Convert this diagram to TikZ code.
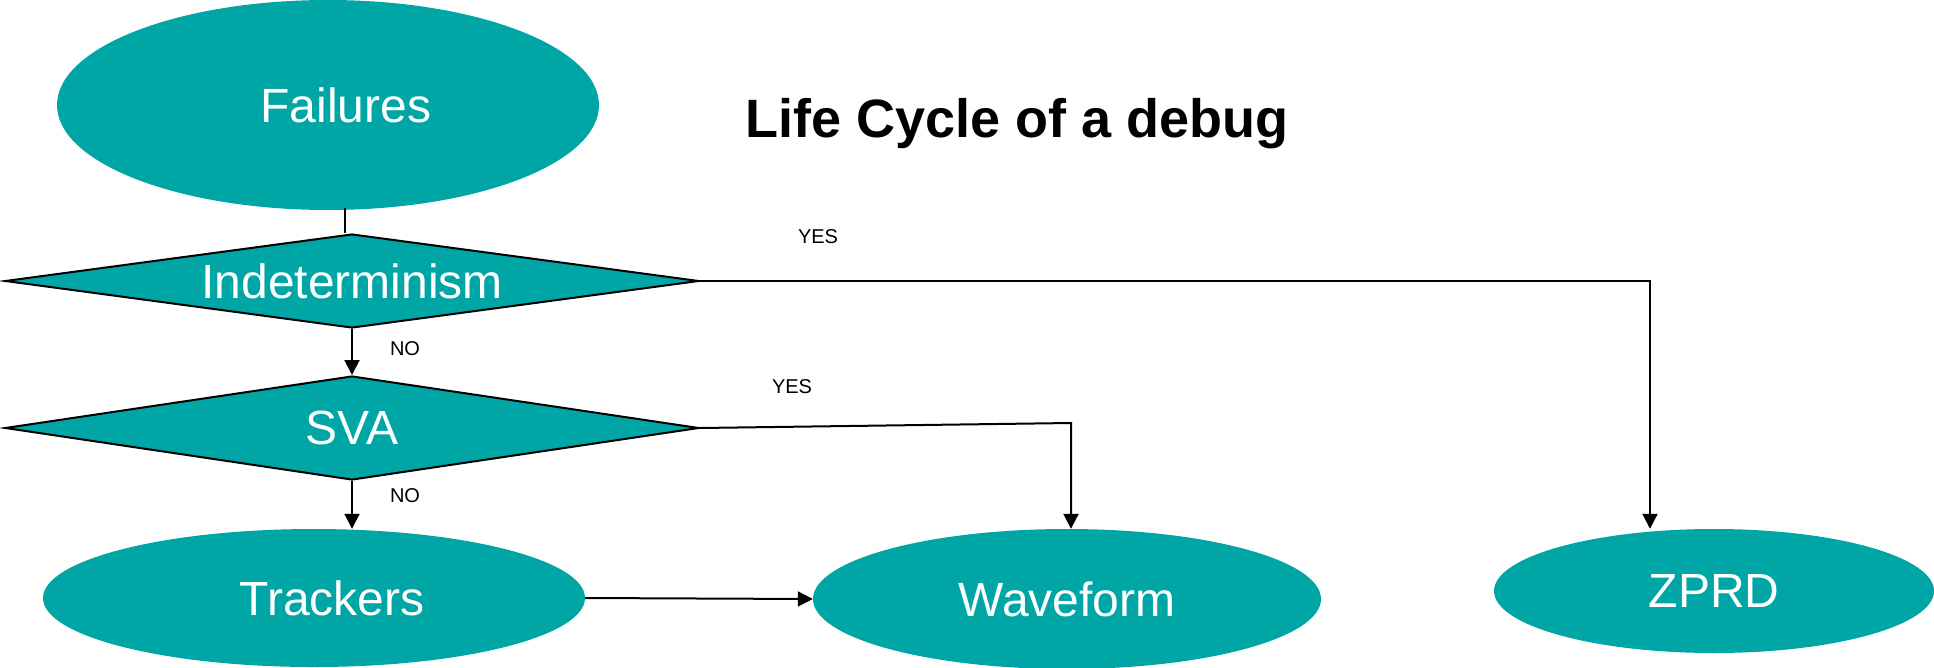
\documentclass[tikz,border=0pt]{standalone}
\usepackage{fontspec}
\setmainfont{Liberation Sans}
\usetikzlibrary{shapes.geometric,arrows.meta}
\definecolor{teal1}{RGB}{0,166,166}
\tikzset{
  oval/.style={shape=ellipse, fill=teal1, draw=none, inner sep=0pt, text=white, font=\fontsize{48}{52}\selectfont},
  decision/.style={shape=diamond, aspect=7.4, fill=teal1, draw=black, line width=2pt, inner sep=0pt, text=white, font=\fontsize{48}{52}\selectfont, minimum width=694pt},
  flow/.style={draw=black, line width=2pt, -{Triangle[length=15pt,width=15pt]}},
  plain/.style={draw=black, line width=2pt},
  lbl/.style={font=\fontsize{20}{22}\selectfont, anchor=base, inner sep=0pt}
}
\begin{document}
\begin{tikzpicture}[x=1pt,y=-1pt]
\useasboundingbox (0,0) rectangle (1934,667);
\node[oval, minimum width=542pt, minimum height=210pt] (fail) at (328,105) {\hspace*{36pt}Failures};
\node[decision, minimum height=94pt] (ind) at (352,281) {Indeterminism};
\node[decision, minimum height=104pt] (sva) at (352,428) {SVA};
\node[oval, minimum width=542pt, minimum height=138pt] (track) at (314,598) {\hspace*{36pt}Trackers};
\node[oval, minimum width=508pt, minimum height=140pt] (wave) at (1067,599) {Waveform};
\node[oval, minimum width=440pt, minimum height=124pt] (zprd) at (1714,591) {ZPRD};
\node[font=\bfseries\fontsize{54}{58}\selectfont, anchor=base, inner sep=0pt] (title) at (1017,137) {Life Cycle of a debug};
\node[lbl] (yes1) at (818,243) {YES};
\node[lbl] (yes2) at (792,393) {YES};
\node[lbl] (no1) at (405,355) {NO};
\node[lbl] (no2) at (405,502) {NO};
\coordinate (c1) at (1650,281);
\coordinate (c2) at (1071,423);
\draw[plain] ([xshift=-7pt]ind.north) -- ([xshift=-7pt,yshift=2pt]ind.north |- fail.south);
\draw[flow] (ind.south) -- (sva.north);
\draw[flow] (sva.south) -- (sva.south |- track.north);
\draw[flow] (ind.east) -- (c1) -- (c1 |- zprd.north);
\draw[flow] (sva.east) -- (c2) -- (c2 |- wave.north);
\draw[flow] (track.east) -- (wave.west);
\end{tikzpicture}
\end{document}
